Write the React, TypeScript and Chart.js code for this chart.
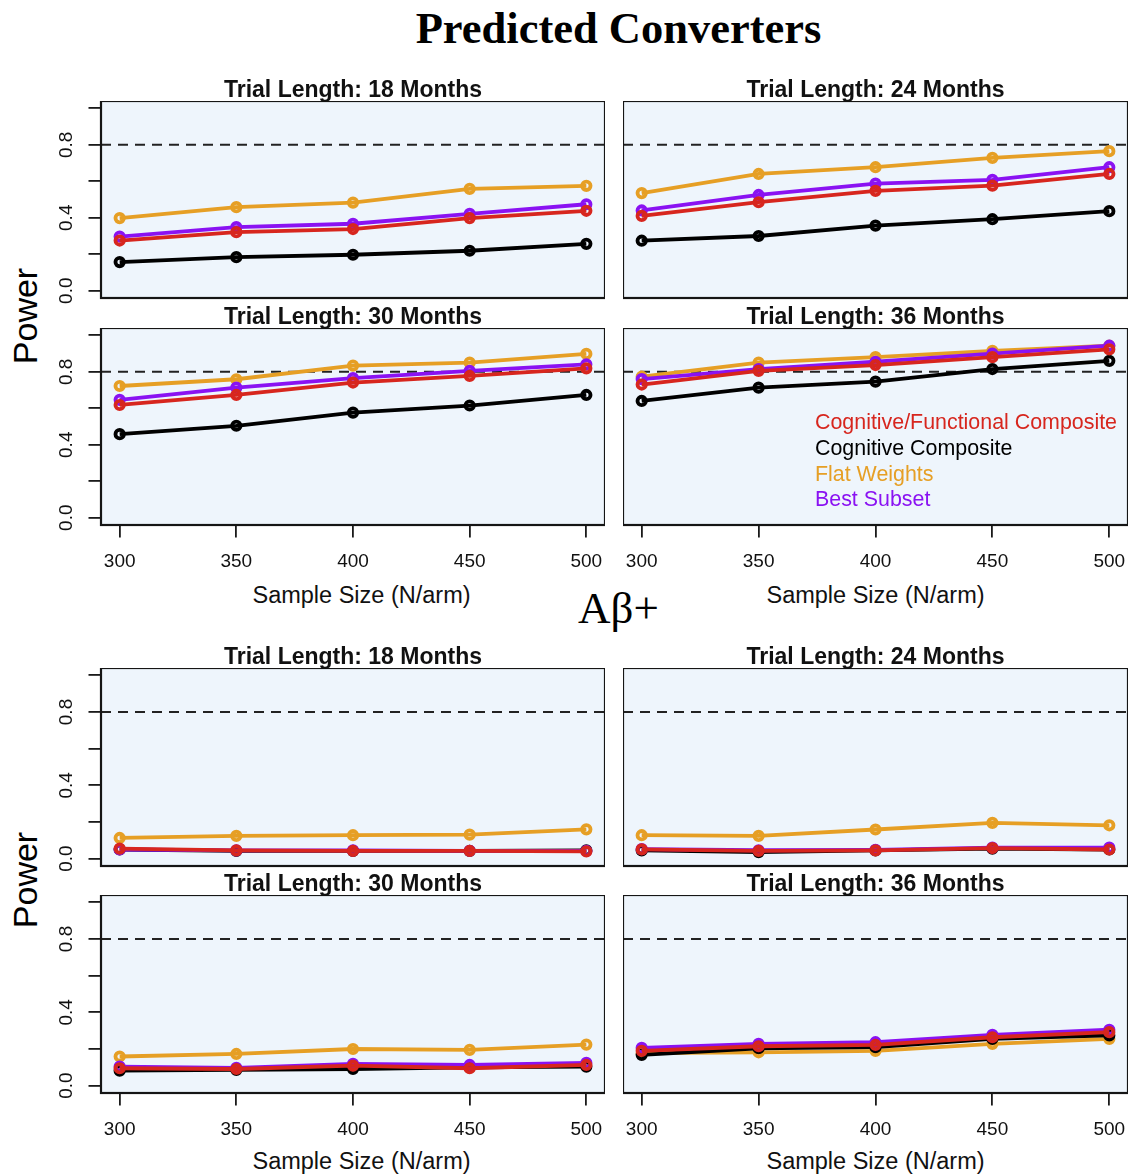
import React, { useEffect, useRef } from "react";
import { Chart, registerables } from "chart.js";

Chart.register(...registerables);

// ---------- data ----------
const sampleSizes = [300, 350, 400, 450, 500];
const yTickValues = [0, 0.2, 0.4, 0.6, 0.8, 1.0];
const yTickLabels = ["0.0", "", "0.4", "", "0.8", ""];
const xTickLabels = ["300", "350", "400", "450", "500"];
const seriesNames = ["Cognitive/Functional Composite", "Cognitive Composite", "Flat Weights", "Best Subset"];
const seriesColors = ["#D7261E", "#000000", "#E69F25", "#8A12F2"];
const trialLengths = ["18", "24", "30", "36"];
const groupTitles = ["Predicted Converters", "A\u03B2+"];
const powerTarget = 0.8;

// Predicted Converters  (order: Cog/Func, Cognitive, Flat, Best Subset)
const pc18CogFunc = [0.275, 0.321, 0.338, 0.398, 0.438];
const pc18Cog = [0.157, 0.184, 0.197, 0.219, 0.257];
const pc18Flat = [0.398, 0.458, 0.483, 0.558, 0.575];
const pc18Best = [0.297, 0.349, 0.367, 0.421, 0.474];

const pc24CogFunc = [0.41, 0.485, 0.547, 0.576, 0.64];
const pc24Cog = [0.274, 0.3, 0.357, 0.392, 0.436];
const pc24Flat = [0.535, 0.64, 0.677, 0.728, 0.765];
const pc24Best = [0.44, 0.525, 0.587, 0.608, 0.677];

const pc30CogFunc = [0.618, 0.673, 0.741, 0.777, 0.819];
const pc30Cog = [0.458, 0.504, 0.576, 0.615, 0.673];
const pc30Flat = [0.722, 0.759, 0.834, 0.85, 0.898];
const pc30Best = [0.646, 0.713, 0.765, 0.805, 0.841];

const pc36CogFunc = [0.73, 0.805, 0.837, 0.88, 0.923];
const pc36Cog = [0.64, 0.713, 0.746, 0.815, 0.86];
const pc36Flat = [0.773, 0.85, 0.88, 0.915, 0.943];
const pc36Best = [0.76, 0.815, 0.855, 0.9, 0.943];

// Abeta+
const ab18CogFunc = [0.055, 0.045, 0.042, 0.042, 0.04];
const ab18Cog = [0.05, 0.042, 0.042, 0.042, 0.045];
const ab18Flat = [0.113, 0.124, 0.128, 0.131, 0.16];
const ab18Best = [0.05, 0.045, 0.045, 0.043, 0.042];

const ab24CogFunc = [0.051, 0.042, 0.045, 0.058, 0.05];
const ab24Cog = [0.045, 0.036, 0.045, 0.055, 0.05];
const ab24Flat = [0.128, 0.124, 0.159, 0.195, 0.182];
const ab24Best = [0.052, 0.046, 0.048, 0.06, 0.06];

const ab30CogFunc = [0.095, 0.091, 0.109, 0.095, 0.113];
const ab30Cog = [0.082, 0.086, 0.091, 0.1, 0.104];
const ab30Flat = [0.159, 0.173, 0.2, 0.195, 0.224];
const ab30Best = [0.104, 0.097, 0.119, 0.113, 0.124];

const ab36CogFunc = [0.19, 0.215, 0.222, 0.264, 0.292];
const ab36Cog = [0.168, 0.204, 0.21, 0.255, 0.274];
const ab36Flat = [0.177, 0.182, 0.19, 0.228, 0.255];
const ab36Best = [0.206, 0.228, 0.237, 0.277, 0.305];

// ---------- styling ----------
const SANS = '"Liberation Sans", Arial, Helvetica, sans-serif';
const SERIF = '"Liberation Serif", "Times New Roman", serif';
const PANEL_BG = "#EEF5FC";
const X_MIN = 292;
const X_MAX = 508;
const Y_MIN = -0.04;
const Y_MAX = 1.04;
const Y_AXIS_W = 60;
const X_AXIS_H = 50;
const EXTRA_BOTTOM = 16; // room for rotated "0.0" on panels without x axis
const DRAW_ORDER = [0, 3, 1, 2]; // first drawn on top in Chart.js

const decorPlugin = {
  id: "panelDecor",
  beforeDraw(chart: any) {
    const { ctx, chartArea: a } = chart;
    ctx.save();
    ctx.fillStyle = PANEL_BG;
    ctx.fillRect(a.left, a.top, a.right - a.left, a.bottom - a.top);
    ctx.restore();
  },
  beforeDatasetsDraw(chart: any) {
    const { ctx, chartArea: a, scales } = chart;
    const y = scales.y.getPixelForValue(powerTarget);
    ctx.save();
    ctx.strokeStyle = "#222";
    ctx.lineWidth = 2;
    ctx.setLineDash([10, 7]);
    ctx.beginPath();
    ctx.moveTo(a.left, y);
    ctx.lineTo(a.right, y);
    ctx.stroke();
    ctx.restore();
  },
  afterDraw(chart: any, _args: any, opts: any) {
    const { ctx, chartArea: a, scales } = chart;
    ctx.save();
    ctx.strokeStyle = "#151515";
    ctx.lineWidth = 2.2;
    ctx.strokeRect(a.left, a.top, a.right - a.left, a.bottom - a.top);
    ctx.fillStyle = "#111";
    ctx.font = `19px ${SANS}`;
    ctx.textAlign = "center";
    ctx.textBaseline = "middle";
    if (opts.showX) {
      sampleSizes.forEach((v, i) => {
        ctx.fillText(xTickLabels[i], scales.x.getPixelForValue(v), a.bottom + 37);
      });
    }
    if (opts.showY) {
      yTickValues.forEach((v, i) => {
        if (!yTickLabels[i]) return;
        ctx.save();
        ctx.translate(a.left - 34, scales.y.getPixelForValue(v));
        ctx.rotate(-Math.PI / 2);
        ctx.fillText(yTickLabels[i], 0, 0);
        ctx.restore();
      });
    }
    ctx.restore();
  },
};

type PanelProps = {
  series: number[][];
  boxLeft: number;
  boxTop: number;
  boxW: number;
  boxH: number;
  showX: boolean;
  showY: boolean;
};

function Panel({ series, boxLeft, boxTop, boxW, boxH, showX, showY }: PanelProps) {
  const ref = useRef<HTMLCanvasElement | null>(null);
  const yW = showY ? Y_AXIS_W : 0;
  const xH = showX ? X_AXIS_H : 0;
  const padBottom = showX ? 0 : EXTRA_BOTTOM;
  const left = boxLeft - yW;
  const width = boxW + yW;
  const height = boxH + xH + padBottom;

  useEffect(() => {
    if (!ref.current) return;
    const datasets = DRAW_ORDER.map((i) => ({
      label: seriesNames[i],
      data: sampleSizes.map((x, j) => ({ x, y: series[i][j] })),
      borderColor: seriesColors[i],
      backgroundColor: "rgba(0,0,0,0)",
      pointBackgroundColor: "rgba(0,0,0,0)",
      pointBorderColor: seriesColors[i],
      pointRadius: 4.2,
      pointBorderWidth: 3.8,
      borderWidth: 3.8,
      tension: 0,
      fill: false,
    }));
    const grid = {
      drawOnChartArea: false,
      drawTicks: true,
      tickLength: 12.5,
      color: "#1a1a1a",
      lineWidth: 1.8,
    };
    const chart = new Chart(ref.current, {
      type: "line",
      data: { datasets },
      plugins: [decorPlugin],
      options: {
        animation: false,
        responsive: false,
        maintainAspectRatio: false,
        devicePixelRatio: 1,
        events: [],
        layout: { padding: { left: 0, right: 0, top: 0, bottom: padBottom }, autoPadding: false },
        plugins: {
          legend: { display: false },
          tooltip: { enabled: false },
          panelDecor: { showX, showY },
        } as any,
        scales: {
          x: {
            type: "linear",
            min: X_MIN,
            max: X_MAX,
            display: showX,
            afterBuildTicks: (s: any) => {
              s.ticks = sampleSizes.map((v) => ({ value: v }));
            },
            afterFit: (s: any) => {
              s.height = xH;
            },
            grid,
            border: { display: false },
            ticks: { display: false },
          },
          y: {
            type: "linear",
            min: Y_MIN,
            max: Y_MAX,
            display: showY,
            afterBuildTicks: (s: any) => {
              s.ticks = yTickValues.map((v) => ({ value: v }));
            },
            afterFit: (s: any) => {
              s.width = yW;
            },
            grid,
            border: { display: false },
            ticks: { display: false },
          },
        },
      } as any,
    });
    return () => chart.destroy();
  }, [series, showX, showY, xH, yW, padBottom]);

  return (
    <canvas
      ref={ref}
      width={width}
      height={height}
      style={{ position: "absolute", left, top: boxTop, width, height }}
    />
  );
}

type TxtProps = {
  x: number;
  y: number;
  text: string;
  size: number;
  color?: string;
  bold?: boolean;
  family?: string;
  rotate?: number;
  alignLeft?: boolean;
};

function Txt({ x, y, text, size, color = "#000", bold = false, family = SANS, rotate = 0, alignLeft = false }: TxtProps) {
  return (
    <div
      style={{
        position: "absolute",
        left: x,
        top: y,
        transform: `translate(${alignLeft ? "0" : "-50%"}, -50%) rotate(${rotate}deg)`,
        fontFamily: family,
        fontSize: size,
        fontWeight: bold ? 700 : 400,
        color,
        lineHeight: 1,
        whiteSpace: "nowrap",
      }}
    >
      {text}
    </div>
  );
}

const COL_LEFT = [101, 623];
const COL_W = [504, 505];
const GROUP_ROW_TOPS = [
  [101, 328],
  [668, 895],
];
const GROUP_BOX_H = [197, 198];

const groupData = [
  [
    [pc18CogFunc, pc18Cog, pc18Flat, pc18Best],
    [pc24CogFunc, pc24Cog, pc24Flat, pc24Best],
    [pc30CogFunc, pc30Cog, pc30Flat, pc30Best],
    [pc36CogFunc, pc36Cog, pc36Flat, pc36Best],
  ],
  [
    [ab18CogFunc, ab18Cog, ab18Flat, ab18Best],
    [ab24CogFunc, ab24Cog, ab24Flat, ab24Best],
    [ab30CogFunc, ab30Cog, ab30Flat, ab30Best],
    [ab36CogFunc, ab36Cog, ab36Flat, ab36Best],
  ],
];

const GROUP_TITLE_Y = [28, 608];
const POWER_Y = [316, 880];
const XTITLE_Y = [595.5, 1161.5];
const XTITLE_X = [361.5, 875.5];
const LEGEND_Y = [423, 449, 474.5, 500];

export default function App() {
  return (
    <div
      style={{
        position: "absolute",
        left: 0,
        top: 0,
        width: 1129,
        height: 1175,
        background: "#ffffff",
        overflow: "hidden",
      }}
    >
      {groupData.map((panels, g) => (
        <React.Fragment key={g}>
          <Txt
            x={618.5}
            y={GROUP_TITLE_Y[g]}
            text={groupTitles[g]}
            size={g === 0 ? 44.5 : 45}
            bold={g === 0}
            family={SERIF}
          />
          <Txt x={25} y={POWER_Y[g]} text="Power" size={34} rotate={-90} />
          {panels.map((series, p) => {
            const col = p % 2;
            const row = Math.floor(p / 2);
            const boxTop = GROUP_ROW_TOPS[g][row];
            const boxH = GROUP_BOX_H[g];
            return (
              <React.Fragment key={p}>
                <Panel
                  series={series}
                  boxLeft={COL_LEFT[col]}
                  boxTop={boxTop}
                  boxW={COL_W[col]}
                  boxH={boxH}
                  showX={row === 1}
                  showY={col === 0}
                />
                <Txt
                  x={COL_LEFT[col] + COL_W[col] / 2}
                  y={boxTop - 12}
                  text={`Trial Length: ${trialLengths[p]} Months`}
                  size={23}
                  bold
                  color="#111"
                />
              </React.Fragment>
            );
          })}
          {XTITLE_X.map((x, i) => (
            <Txt key={i} x={x} y={XTITLE_Y[g]} text="Sample Size (N/arm)" size={23.5} color="#111" />
          ))}
        </React.Fragment>
      ))}
      {seriesNames.map((name, i) => (
        <Txt key={name} x={815} y={LEGEND_Y[i]} text={name} size={21.4} color={seriesColors[i]} alignLeft />
      ))}
    </div>
  );
}
